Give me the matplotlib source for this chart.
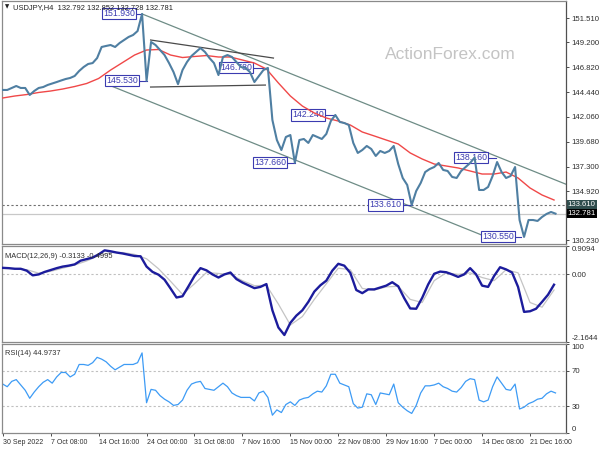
"""
    USDJPY H4 chart with MACD and RSI panels
"""

import numpy as np
import matplotlib
matplotlib.use('Agg')
import matplotlib.pyplot as plt

plt.rcParams['font.family'] = ['Liberation Sans', 'DejaVu Sans']

# Close prices, one reading every 3 bars (4h bars)
close = [
    144.64, 144.64, 144.83, 145.02, 144.83, 144.83, 144.16, 144.54, 144.83, 144.92,
    145.12, 145.26, 145.40, 145.55, 145.69, 145.79, 145.98, 146.46, 146.84, 147.13,
    147.22, 147.70, 148.76, 148.86, 148.95, 148.76, 149.14, 149.43, 149.72, 149.91,
    150.29, 151.93, 145.53, 149.24, 148.95, 148.47, 147.99, 147.22, 146.36, 145.20,
    146.55, 147.32, 147.90, 148.28, 148.66, 148.28, 147.70, 147.22, 146.07, 147.80,
    147.99, 147.80, 147.32, 146.84, 146.75, 146.36, 145.40, 145.98, 146.55, 146.75,
    141.76, 139.84, 138.88, 140.13, 140.32, 137.66, 139.84, 139.94, 139.56, 140.32,
    140.13, 139.94, 140.42, 141.66, 142.24, 141.57, 141.47, 141.28, 139.56, 138.60,
    138.88, 139.27, 138.98, 138.31, 138.79, 138.60, 138.79, 139.27, 137.54, 136.20,
    135.53, 133.61, 134.95, 135.72, 136.77, 137.06, 137.25, 137.64, 136.97, 136.87,
    136.30, 136.20, 136.87, 137.25, 137.64, 138.16, 135.05, 135.05, 135.34, 136.39,
    137.73, 136.77, 136.20, 136.39, 137.25, 132.17, 130.55, 132.17, 132.17, 132.08,
    132.46, 132.75, 132.94, 132.78,
]
CLOSE_STEP = 3

# Moving average (red), one reading every 8 bars
ma = [
    143.87, 144.06, 144.20, 144.40, 144.54, 144.73, 144.97, 145.26, 145.74, 146.55,
    147.27, 147.99, 148.47, 148.52, 147.99, 147.75, 147.85, 147.94, 147.80, 147.80,
    147.51, 147.22, 146.65, 145.31, 144.06, 143.10, 142.43, 141.95, 141.66, 141.28,
    140.61, 140.23, 139.84, 139.46, 138.60, 138.02, 137.54, 137.35, 137.16, 136.87,
    136.58, 136.58, 136.77, 136.20, 135.24, 134.57, 134.09,
]
MA_STEP = 8

# MACD main line, one reading every 4 bars
macd = [
    0.21, 0.20, 0.18, 0.18, 0.12, -0.03, 0.00, 0.08, 0.14, 0.20,
    0.25, 0.28, 0.32, 0.44, 0.49, 0.54, 0.64, 0.77, 0.74, 0.70,
    0.67, 0.63, 0.59, 0.58, 0.25, 0.08, -0.01, -0.17, -0.45, -0.74,
    -0.70, -0.38, -0.05, 0.20, 0.13, 0.00, -0.10, 0.00, 0.06, -0.15,
    -0.26, -0.35, -0.44, -0.40, -0.31, -1.15, -1.70, -1.94, -1.55, -1.32,
    -1.15, -0.88, -0.55, -0.35, -0.20, 0.12, 0.34, 0.28, 0.05, -0.50,
    -0.60, -0.48, -0.48, -0.42, -0.36, -0.25, -0.38, -0.76, -1.09, -1.10,
    -0.75, -0.32, 0.02, 0.09, 0.07, 0.00, -0.08, 0.00, 0.20, 0.00,
    -0.36, -0.40, -0.05, 0.23, 0.16, 0.06, -0.40, -1.20, -1.18, -1.10,
    -0.88, -0.65, -0.33,
]
MACD_STEP = 4

# MACD signal line, one reading every 8 bars
signal = [
    0.19, 0.19, 0.15, 0.04, 0.10, 0.20, 0.30, 0.43, 0.60, 0.70,
    0.70, 0.64, 0.50, 0.18, -0.22, -0.64, -0.30, 0.06, 0.03, 0.00,
    -0.20, -0.36, -0.35, -0.95, -1.62, -1.35, -0.80, -0.30, 0.20, 0.15,
    -0.45, -0.50, -0.40, -0.38, -0.80, -0.90, -0.20, 0.05, 0.00, 0.05,
    -0.10, -0.20, 0.15, 0.05, -0.90, -1.05, -0.50,
]
SIGNAL_STEP = 8

# RSI(14), one reading every 3 bars
rsi = [
    55, 52, 58, 60, 54, 48, 39, 46, 52, 57,
    60, 56, 63, 68, 68, 63, 66, 77, 77, 76,
    79, 85, 83, 80, 75, 71, 74, 77, 77, 77,
    79, 90, 34, 49, 48, 42, 38, 35, 31, 32,
    37, 48, 55, 57, 58, 50, 49, 48, 52, 56,
    52, 45, 42, 40, 40, 40, 36, 45, 47, 40,
    20, 26, 23, 32, 35, 31, 37, 39, 40, 44,
    47, 46, 53, 66, 66, 56, 54, 52, 33, 28,
    29, 44, 43, 32, 45, 44, 43, 55, 34, 29,
    25, 22, 31, 45, 53, 53, 54, 56, 52, 50,
    47, 46, 51, 58, 61, 60, 37, 35, 37, 52,
    63, 56, 49, 48, 55, 27, 29, 33, 35, 38,
    39, 44, 47, 45,
]
RSI_STEP = 3

# Time axis
time_labels = ['30 Sep 2022', '7 Oct 08:00', '14 Oct 16:00', '24 Oct 00:00',
               '31 Oct 08:00', '7 Nov 16:00', '15 Nov 00:00', '22 Nov 08:00',
               '29 Nov 16:00', '7 Dec 00:00', '14 Dec 08:00', '21 Dec 16:00']
BARS_PER_LABEL = 32
N_BARS_VIEW = 376

price_ticks = [151.51, 149.20, 146.82, 144.44, 142.06, 139.68, 137.30, 134.92, 130.23]

# Trend lines (bar, price)
channel_top = [(93, 151.93), (376, 135.6)]
channel_bottom = [(70.7, 145.12), (322, 130.6)]
triangle_top = [(98.7, 149.43), (180.7, 147.70)]
triangle_bottom = [(98.7, 144.92), (175.3, 145.11)]

# Price labels: (text, price, box right edge bar, pointed bar)
price_labels = [
    ('151.930', 151.93, 89, 93),
    ('145.530', 145.53, 91, 96),
    ('146.780', 146.78, 167, 174),
    ('142.240', 142.24, 215, 222),
    ('137.660', 137.66, 190, 195),
    ('133.610', 133.61, 267, 273),
    ('138.160', 138.16, 324, 329),
    ('130.550', 130.55, 342, 346),
]

level_support = 133.61
last_price = 132.781

#########
# Style #
#########
BAR_COLOR = '#4f7fa2'
LABEL_BLUE = '#3b3bb0'
SPINE = '#8a8a8a'
TICK_FS = 5.6


def style_panel(ax):
    for side in ['top', 'bottom', 'left']:
        ax.spines[side].set_color(SPINE)
        ax.spines[side].set_linewidth(0.9)
    ax.spines['right'].set_color('#505050')
    ax.spines['right'].set_linewidth(0.9)
    ax.yaxis.tick_right()
    ax.tick_params(axis='y', direction='out', length=2.5, width=0.6,
                   labelsize=TICK_FS, pad=1.5, colors='#303030')
    ax.set_xlim(-0.5, N_BARS_VIEW)
    ax.set_xticks([])


fig = plt.figure(figsize=(6, 4.5), dpi=100)
ax1 = fig.add_axes([2 / 600, 206 / 450, 564 / 600, 243 / 450])
ax2 = fig.add_axes([2 / 600, 108 / 450, 564 / 600, 96 / 450])
ax3 = fig.add_axes([2 / 600, 17 / 450, 564 / 600, 89 / 450])
for ax in (ax1, ax2, ax3):
    style_panel(ax)

##############
# Price pane #
##############
close_x = np.arange(len(close)) * CLOSE_STEP
ma_x = np.arange(len(ma)) * MA_STEP

ax1.set_ylim(129.87, 153.17)
ax1.set_yticks(price_ticks)
ax1.set_yticklabels([f'{p:.3f}' for p in price_ticks])

ax1.text(0.795, 0.778, 'ActionForex.com', transform=ax1.transAxes,
         ha='center', va='center', fontsize=12.5, color='#c4c4c4', zorder=0)

ax1.axhline(level_support, color='#707070', lw=0.8, ls=(0, (2, 2)), zorder=1)
ax1.axhline(last_price, color='#c8c8c8', lw=0.9, zorder=1)

for line, col in [(channel_top, '#6e8c86'), (channel_bottom, '#6e8c86'),
                  (triangle_top, '#4a4a4a'), (triangle_bottom, '#4a4a4a')]:
    xs, ys = zip(*line)
    ax1.plot(xs, ys, color=col, lw=0.9, zorder=2)

ax1.plot(ma_x, ma, color='#f04848', lw=1.0, zorder=3)
ax1.plot(close_x, close, color=BAR_COLOR, lw=1.5, zorder=4)

for text, price, box_bar, point_bar in price_labels:
    ax1.plot([box_bar, point_bar], [price, price], color=LABEL_BLUE, lw=0.8, zorder=2)
    ax1.text(box_bar - 0.8, price, text, ha='right', va='center', fontsize=6.3,
             color=LABEL_BLUE, zorder=2,
             bbox=dict(boxstyle='square,pad=0.12', fc='white', ec=LABEL_BLUE, lw=0.8))

ytr = ax1.get_yaxis_transform()
ax1.text(1.003, level_support, f'{level_support:.3f}', transform=ytr, ha='left',
         va='center', fontsize=TICK_FS, color='white', clip_on=False,
         bbox=dict(boxstyle='square,pad=0.15', fc='#2f4d4d', ec='none'))
ax1.text(1.003, last_price, f'{last_price:.3f}', transform=ytr, ha='left',
         va='center', fontsize=TICK_FS, color='white', clip_on=False,
         bbox=dict(boxstyle='square,pad=0.15', fc='black', ec='none'))

ax1.text(0.006, 0.985, '\u25bc', transform=ax1.transAxes, ha='left', va='top',
         fontsize=4, color='#202020', family='DejaVu Sans')
ax1.text(0.019, 0.988, 'USDJPY,H4  132.792 132.852 132.728 132.781',
         transform=ax1.transAxes, ha='left', va='top', fontsize=5.4,
         color='#202020')

#############
# MACD pane #
#############
macd_x = np.arange(len(macd)) * MACD_STEP
signal_x = np.arange(len(signal)) * SIGNAL_STEP

ax2.set_ylim(-2.1644, 0.9094)
ax2.set_yticks([0.9094, 0.0, -2.1644])
ax2.set_yticklabels(['0.9094', '0.00', '-2.1644'])
labels = ax2.get_yticklabels()
labels[0].set_va('top')
labels[2].set_va('bottom')
ax2.axhline(0, color='#c0c0c0', lw=0.8, ls=(0, (2, 2)), zorder=1)
ax2.plot(signal_x, signal, color='#c4c4c4', lw=0.9, zorder=2)
ax2.plot(macd_x, macd, color='#1c1c9c', lw=1.7, zorder=3)
ax2.text(0.006, 0.93, 'MACD(12,26,9) -0.3133 -0.4995', transform=ax2.transAxes,
         ha='left', va='top', fontsize=5.4, color='#303030')

############
# RSI pane #
############
rsi_x = np.arange(len(rsi)) * RSI_STEP

ax3.set_ylim(0, 100)
ax3.set_yticks([100, 70, 30, 0])
ax3.set_yticklabels(['100', '70', '30', '0'])
labels = ax3.get_yticklabels()
labels[0].set_va('top')
labels[3].set_va('bottom')
for lvl in (70, 30):
    ax3.axhline(lvl, color='#c0c0c0', lw=0.8, ls=(0, (2, 2)), zorder=1)
ax3.plot(rsi_x, rsi, color='#3d9bf5', lw=0.9, zorder=2)
ax3.text(0.006, 0.93, 'RSI(14) 44.9737', transform=ax3.transAxes,
         ha='left', va='top', fontsize=5.4, color='#303030')

tick_pos = np.arange(len(time_labels)) * BARS_PER_LABEL
ax3.set_xticks(tick_pos)
ax3.set_xticklabels(time_labels, ha='left')
ax3.tick_params(axis='x', direction='out', length=2.5, width=0.6,
                labelsize=5.0, pad=1.5, colors='#303030')

fig.savefig('out.png', dpi=100)
